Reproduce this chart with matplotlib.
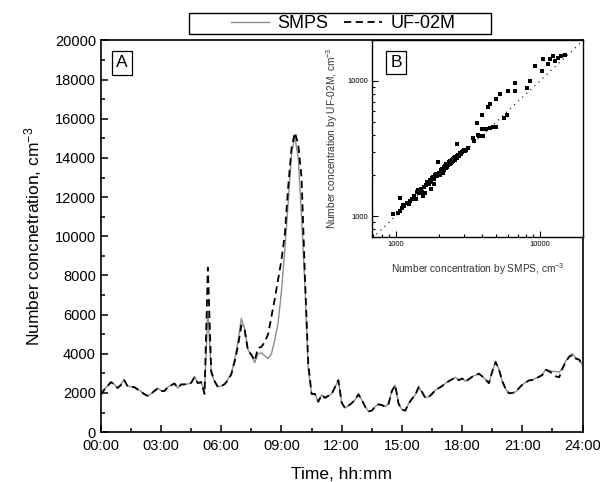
"""
Daily number concentration: SMPS vs UF-02M, with log-log comparison inset.
"""

import numpy as np
import matplotlib
matplotlib.use("Agg")
import matplotlib.pyplot as plt
from matplotlib.patches import Rectangle
from matplotlib.ticker import MultipleLocator, FixedLocator, NullFormatter

plt.rcParams["font.family"] = ["Liberation Sans", "DejaVu Sans"]
plt.rcParams["mathtext.fontset"] = "custom"
plt.rcParams["mathtext.rm"] = "Liberation Sans"
plt.rcParams["mathtext.default"] = "regular"

# time of day in hours, 10-minute steps
hours = np.arange(0, 24 + 1e-9, 1 / 6)

smps = [
    2000, 2200, 2350, 2550, 2450, 2250, 2450, 2680, 2350, 2320, 2300, 2200,   # 00-02
    2080, 1950, 1850, 1950, 2100, 2250, 2120, 2110, 2300, 2400, 2500, 2250,   # 02-04
    2450, 2430, 2460, 2500, 2850, 2520, 2570, 2000, 6200, 3000, 2600, 2320,   # 04-06
    2350, 2450, 2700, 3000, 3700, 4600, 5800, 5300, 4200, 3950, 3550, 4000,   # 06-08
    4050, 3900, 3750, 4000, 4700, 5600, 7200, 9300, 11700, 14200, 15100, 14000,  # 08-10
    11000, 7500, 3200, 1950, 1950, 1550, 1900, 1750, 1850, 1950, 2300, 2650,  # 10-12
    1500, 1230, 1350, 1480, 1650, 1930, 1650, 1300, 1060, 1100, 1300, 1420,   # 12-14
    1380, 1300, 1450, 2100, 2400, 1450, 1150, 1100, 1450, 1700, 1900, 2300,   # 14-16
    2050, 1750, 1800, 1950, 2150, 2250, 2350, 2500, 2600, 2700, 2800, 2650,   # 16-18
    2750, 2600, 2700, 2850, 2900, 3000, 2850, 2700, 2500, 3100, 3600, 3200,   # 18-20
    2600, 2200, 1980, 2000, 2060, 2250, 2420, 2550, 2650, 2680, 2750, 2850,   # 20-22
    2950, 3200, 3150, 3100, 3100, 3050, 3300, 3650, 3850, 4000, 3780, 3700,   # 22-24
    3400,
]

uf02m = [
    1900, 2150, 2350, 2550, 2450, 2250, 2400, 2650, 2350, 2300, 2300, 2180,
    2060, 1940, 1850, 1950, 2100, 2230, 2100, 2100, 2280, 2380, 2480, 2260,
    2430, 2440, 2450, 2520, 2800, 2500, 2550, 1950, 8400, 3100, 2600, 2300,
    2350, 2450, 2650, 2950, 3600, 4400, 5450, 5200, 4150, 3950, 3650, 4300,
    4350, 4600, 5000, 5900, 6800, 7800, 8800, 10100, 12500, 14500, 15300, 14700,
    13000, 8000, 3500, 1950, 1950, 1550, 1900, 1750, 1850, 1950, 2300, 2650,
    1500, 1230, 1350, 1480, 1650, 1930, 1650, 1300, 1060, 1100, 1300, 1420,
    1380, 1300, 1450, 2100, 2400, 1450, 1150, 1100, 1450, 1700, 1900, 2300,
    2050, 1750, 1800, 1950, 2150, 2250, 2350, 2500, 2600, 2700, 2780, 2650,
    2740, 2580, 2700, 2820, 2900, 2980, 2850, 2680, 2500, 3100, 3580, 3200,
    2600, 2200, 1980, 2000, 2060, 2250, 2420, 2530, 2640, 2660, 2740, 2820,
    2920, 3180, 3100, 3000, 2850, 2800, 3250, 3600, 3850, 3950, 3750, 3700,
    3400,
]

# paired readings for the inset (SMPS, UF-02M)
pair_smps = [
    960, 1040, 1070, 1080, 1100, 1130, 1150, 1200, 1230, 1250, 1300, 1350,
    1380, 1400, 1420, 1450, 1500, 1520, 1550, 1580, 1600, 1620, 1650, 1700,
    1720, 1750, 1750, 1800, 1820, 1850, 1850, 1880, 1900, 1950, 1970, 2000,
    2020, 2050, 2080, 2100, 2120, 2150, 2180, 2200, 2230, 2250, 2280, 2300,
    2320, 2350, 2380, 2400, 2420, 2450, 2480, 2500, 2520, 2550, 2580, 2600,
    2620, 2650, 2650, 2680, 2700, 2750, 2780, 2800, 2850, 2900, 2950, 3000,
    3050, 3100, 3200, 3450, 3500, 3650, 3700, 3800, 3950, 3950, 4050, 4200,
    4400, 4500, 4500, 4700, 5000, 5000, 5300, 5600, 5900, 6000, 6700, 6700,
    8100, 8500, 9200, 10300, 10500, 11400, 11700, 12400, 12700, 13400, 14100,
    14900,
]
pair_uf = [
    1030, 1060, 1370, 1100, 1140, 1200, 1180, 1250, 1230, 1300, 1330, 1420,
    1350, 1500, 1560, 1480, 1600, 1520, 1420, 1650, 1480, 1700, 1780, 1720,
    1850, 1800, 1600, 1900, 1950, 1880, 1720, 2000, 2050, 1980, 2510, 2100,
    2020, 2200, 2150, 2250, 2080, 2300, 2200, 2350, 2280, 2420, 2300, 2450,
    2380, 2500, 2420, 2550, 2480, 2620, 2500, 2650, 2580, 2700, 2620, 2750,
    2680, 2800, 3400, 2700, 2850, 2780, 2900, 2950, 2880, 3000, 3030, 3100,
    3050, 3100, 3200, 3800, 3600, 4900, 4000, 3900, 5600, 4400, 3900, 4400,
    6400, 6700, 4500, 4600, 4600, 7300, 8000, 5300, 5600, 8400, 8400, 9700,
    8900, 10000, 12900, 11900, 14500, 13300, 14500, 15300, 14100, 14900, 15300,
    15500,
]

x_ticks = [0, 3, 6, 9, 12, 15, 18, 21, 24]
x_tick_labels = ["00:00", "03:00", "06:00", "09:00", "12:00",
                 "15:00", "18:00", "21:00", "24:00"]

fig = plt.figure(figsize=(6.0, 4.82), dpi=100)

# ---- main panel (A) ----
ax = fig.add_axes([0.168, 0.1035, 0.803, 0.8125])
ax.plot(hours, smps, color="#8c8c8c", lw=1.0, label="SMPS")
ax.plot(hours, uf02m, color="black", lw=1.3, ls=(0, (4, 2.5)), label="UF-02M")
ax.set_xlim(0, 24)
ax.set_ylim(0, 20000)
ax.set_xticks(x_ticks)
ax.set_xticklabels(x_tick_labels)
ax.xaxis.set_minor_locator(MultipleLocator(1.5))
ax.yaxis.set_major_locator(MultipleLocator(2000))
ax.yaxis.set_minor_locator(MultipleLocator(1000))
ax.tick_params(which="both", direction="in", labelsize=10.5, width=1.1)
ax.tick_params(which="major", length=5)
ax.tick_params(which="minor", length=3)
ax.tick_params(axis="x", pad=5)
for s in ax.spines.values():
    s.set_linewidth(1.2)
ax.set_xlabel("Time, hh:mm", fontsize=12.5, labelpad=10)
ax.set_ylabel("Number concnetration, cm$^{-3}$", fontsize=12.5, labelpad=8)
ax.text(0.032, 0.962, "A", transform=ax.transAxes, fontsize=12.5,
        ha="left", va="top",
        bbox=dict(boxstyle="square,pad=0.25", fc="white", ec="black", lw=0.9))

# legend above the plot, boxed by a separate frame
fig.patches.append(Rectangle((189 / 600, 1 - 34 / 482), 302 / 600, 21 / 482,
                             transform=fig.transFigure, fill=False,
                             ec="black", lw=1.0))
fig.legend(loc="center", bbox_to_anchor=(0.572, 0.9505), ncol=2,
           fontsize=13, frameon=False, handlelength=2.1,
           columnspacing=0.9, handletextpad=0.45, borderpad=0.0)

# ---- inset panel (B) ----
ins = fig.add_axes([0.6205, 0.508, 0.3517, 0.4085])
ins.scatter(pair_smps, pair_uf, marker="s", s=5, color="black", linewidths=0)
ins.plot([690, 20000], [690, 20000], color="black", lw=0.8, ls=(0, (1, 4)))
ins.set_xscale("log")
ins.set_yscale("log")
ins.set_xlim(690, 20000)
ins.set_ylim(700, 20000)
ins.xaxis.set_major_locator(FixedLocator([1000, 10000]))
ins.yaxis.set_major_locator(FixedLocator([1000, 10000]))
ins.set_xticklabels(["1000", "10000"])
ins.set_yticklabels(["1000", "10000"])
minor = [700, 800, 900] + [k * 1000 for k in range(2, 10)] + [20000]
ins.xaxis.set_minor_locator(FixedLocator(minor))
ins.yaxis.set_minor_locator(FixedLocator(minor))
ins.xaxis.set_minor_formatter(NullFormatter())
ins.yaxis.set_minor_formatter(NullFormatter())
ins.tick_params(which="both", direction="in", labelsize=5.5, width=0.8, pad=3)
ins.tick_params(which="major", length=4)
ins.tick_params(which="minor", length=2.5)
for s in ins.spines.values():
    s.set_linewidth(1.0)
ins.set_xlabel("Number concentration by SMPS, cm$^{-3}$", fontsize=7.3,
               labelpad=9, color="#333333")
ins.set_ylabel("Number concentration by UF-02M, cm$^{-3}$", fontsize=7.3,
               labelpad=5, color="#333333")
ins.text(0.085, 0.925, "B", transform=ins.transAxes, fontsize=12.5,
         ha="left", va="top",
         bbox=dict(boxstyle="square,pad=0.25", fc="white", ec="black", lw=0.9))

fig.savefig("out.png", dpi=100)
